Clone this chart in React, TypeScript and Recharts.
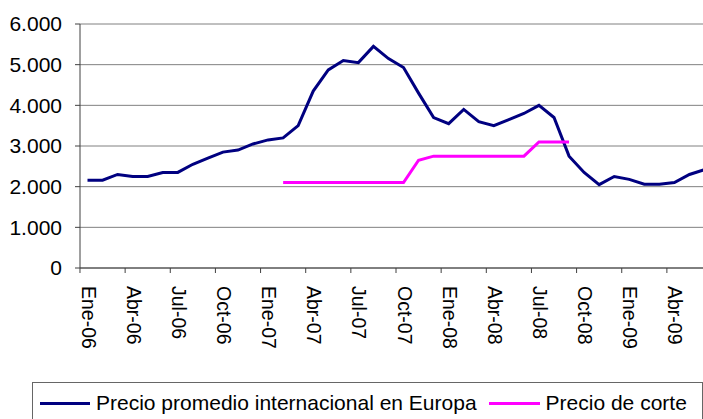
import { LineChart, Line, XAxis, YAxis, CartesianGrid, Legend } from 'recharts';

// meses Ene-06 .. Jun-09
const meses = [
  'Ene-06', 'Feb-06', 'Mar-06', 'Abr-06', 'May-06', 'Jun-06', 'Jul-06', 'Ago-06', 'Sep-06', 'Oct-06', 'Nov-06', 'Dic-06',
  'Ene-07', 'Feb-07', 'Mar-07', 'Abr-07', 'May-07', 'Jun-07', 'Jul-07', 'Ago-07', 'Sep-07', 'Oct-07', 'Nov-07', 'Dic-07',
  'Ene-08', 'Feb-08', 'Mar-08', 'Abr-08', 'May-08', 'Jun-08', 'Jul-08', 'Ago-08', 'Sep-08', 'Oct-08', 'Nov-08', 'Dic-08',
  'Ene-09', 'Feb-09', 'Mar-09', 'Abr-09', 'May-09', 'Jun-09',
];

const precioEuropa = [
  2160, 2160, 2300, 2250, 2250, 2350, 2350, 2550, 2700, 2850, 2900, 3050,
  3150, 3200, 3500, 4350, 4870, 5100, 5050, 5450, 5150, 4930, 4300, 3700,
  3550, 3900, 3600, 3500, 3650, 3800, 4000, 3700, 2750, 2350, 2050, 2250,
  2180, 2060, 2060, 2100, 2300, 2420,
];

const precioCorte: (number | null)[] = [
  null, null, null, null, null, null, null, null, null, null, null, null,
  null, 2100, 2100, 2100, 2100, 2100, 2100, 2100, 2100, 2100, 2650, 2750,
  2750, 2750, 2750, 2750, 2750, 2750, 3100, 3100, 3100, null, null, null,
  null, null, null, null, null, null,
];

const yTicks = [0, 1000, 2000, 3000, 4000, 5000, 6000];

const data = meses.map((mes, i) => ({
  mes,
  europa: precioEuropa[i],
  corte: precioCorte[i],
}));

const FONT = '"Liberation Sans", Arial, sans-serif';
const AZUL = '#000080';
const ROSA = '#ff00ff';

const formatMiles = (v: number) => v.toLocaleString('de-DE');

const MesTick = (props: any) => {
  const { x, y, payload } = props;
  const half = 7.52;
  return (
    <g>
      <line x1={x - half} y1={y} x2={x - half} y2={y + 5} stroke="#404040" strokeWidth={1} />
      <text
        transform={`translate(${x + 1},${y + 18}) rotate(90)`}
        textAnchor="start"
        dominantBaseline="central"
        fontSize={19.5}
        fontFamily={FONT}
        fill="#000"
      >
        {payload.value}
      </text>
    </g>
  );
};

const Leyenda = () => (
  <div
    style={{
      width: 669,
      height: 40,
      border: '1px solid #666',
      display: 'flex',
      alignItems: 'center',
      fontFamily: FONT,
      fontSize: 21,
      color: '#000',
      boxSizing: 'content-box',
      whiteSpace: 'nowrap',
    }}
  >
    <span style={{ display: 'inline-block', width: 50, height: 3, background: AZUL, marginLeft: 7, marginRight: 6 }} />
    <span>Precio promedio internacional en Europa</span>
    <span style={{ display: 'inline-block', width: 51, height: 3, background: ROSA, marginLeft: 12, marginRight: 6 }} />
    <span>Precio de corte</span>
  </div>
);

export default function App() {
  return (
    <div
      style={{
        position: 'fixed',
        left: 0,
        top: 0,
        width: 703,
        height: 419,
        overflow: 'hidden',
        background: '#fff',
      }}
    >
      <LineChart
        width={712}
        height={419}
        data={data}
        margin={{ top: 24, right: 0, left: 0, bottom: 41 }}
      >
        <CartesianGrid horizontal vertical={false} stroke="#808080" strokeWidth={1} />
        <XAxis
          dataKey="mes"
          interval={2}
          height={110}
          padding={{ left: 7.5, right: 7.5 }}
          tick={<MesTick />}
          tickLine={false}
          tickSize={0}
          tickMargin={0}
          axisLine={{ stroke: '#404040', strokeWidth: 1 }}
        />
        <YAxis
          width={80}
          domain={[0, 6000]}
          ticks={yTicks}
          tickFormatter={formatMiles}
          tickSize={5}
          tickMargin={13}
          tickLine={{ stroke: '#404040' }}
          axisLine={{ stroke: '#404040', strokeWidth: 1 }}
          tick={{ fill: '#000', fontSize: 21, fontFamily: FONT }}
        />
        <Legend
          layout="horizontal"
          verticalAlign="middle"
          align="center"
          wrapperStyle={{ left: 32, top: 382, width: 671 }}
          content={<Leyenda />}
        />
        <Line
          type="linear"
          dataKey="europa"
          name="Precio promedio internacional en Europa"
          stroke={AZUL}
          strokeWidth={3}
          dot={false}
          isAnimationActive={false}
        />
        <Line
          type="linear"
          dataKey="corte"
          name="Precio de corte"
          stroke={ROSA}
          strokeWidth={3}
          dot={false}
          connectNulls={false}
          isAnimationActive={false}
        />
      </LineChart>
    </div>
  );
}
